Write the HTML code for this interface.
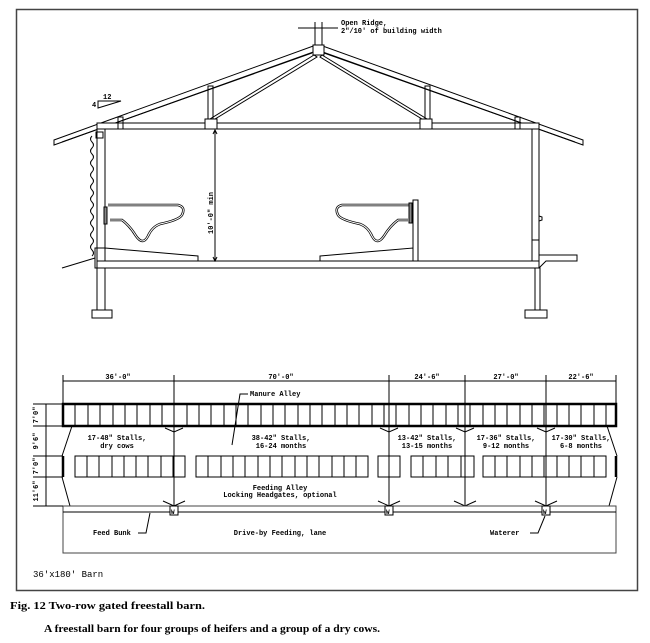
<!DOCTYPE html>
<html><head><meta charset="utf-8"><style>
body{margin:0;background:#fff;}
svg{display:block}
text{font-family:"Liberation Mono",monospace;font-size:7px;fill:#000;font-weight:bold}
.c{font-family:"Liberation Serif",serif;font-size:11px;font-weight:bold}
</style></head><body>
<svg width="650" height="643" viewBox="0 0 650 643" xmlns="http://www.w3.org/2000/svg">
<g fill="none" stroke="#000" stroke-width="1">
<rect x="16.5" y="9.5" width="621" height="581" stroke="#444" stroke-width="1.5"/>
<polygon points="54,140 316,45 320,45 583,140 583,145 320,51 316,51 54,145" fill="#fff"/>
<line x1="62" y1="142" x2="312" y2="53"/><line x1="324" y1="53" x2="575" y2="142"/>
<rect x="313" y="45" width="11" height="10" fill="#fff"/>
<rect x="97" y="123" width="442" height="6" fill="#fff"/>
<rect x="118" y="117" width="5" height="12"/><rect x="515" y="117" width="5" height="12"/>
<rect x="208" y="86" width="5" height="36"/><rect x="425" y="86" width="5" height="36"/>
<rect x="205" y="119" width="12" height="10" fill="#fff"/><rect x="420" y="119" width="12" height="10" fill="#fff"/>
<polygon points="314,55 210,119 215,119 317,57"/><polygon points="322,55 427,119 422,119 320,57"/>
<rect x="97" y="129" width="8" height="181" fill="#fff"/>
<rect x="92" y="310" width="20" height="8"/>
<rect x="96" y="132" width="7" height="6"/>
<rect x="95" y="248" width="10" height="20"/>
<path d="M92,136 q-3,3 0,6 q3,3 0,6 q-3,3 0,6 q3,3 0,6 q-3,3 0,6 q3,3 0,6 q-3,3 0,6 q3,3 0,6 q-3,3 0,6 q3,3 0,6 q-3,3 0,6 q3,3 0,6 q-3,3 0,6 q3,3 0,6 q-3,3 0,6 q3,3 0,6 q-3,3 0,6 q3,3 0,6 q-3,3 0,6 q3,3 0,6"/>
<line x1="62" y1="268" x2="95" y2="258"/>
<rect x="532" y="129" width="7" height="132" fill="#fff"/>
<line x1="532" y1="240" x2="539" y2="240"/>
<path d="M539,216 l3,1 l0,3 l-3,1"/>
<rect x="97" y="261" width="442" height="7" fill="#fff"/>
<path d="M539,255 L577,255 L577,261 L546,261 L539,268"/>
<rect x="535" y="268" width="5" height="42" fill="#fff"/>
<rect x="525" y="310" width="22" height="8"/>
<polygon points="105,248 198,256 198,261 105,261"/>
<polygon points="320,256 413,248 413,261 320,261"/>
<rect x="413" y="200" width="5" height="61" fill="#fff"/>
<g stroke-width="2.5"><path d="M108,205 H178 q8,2 4,10 q-3,5 -22,9 q-8,3 -12,12 q-5,10 -12,0 q-6,-10 -14,-16 H110"/></g>
<g stroke="#fff" stroke-width="1"><path d="M108,205 H178 q8,2 4,10 q-3,5 -22,9 q-8,3 -12,12 q-5,10 -12,0 q-6,-10 -14,-16 H110"/></g>
<rect x="104" y="207" width="3" height="17" fill="#888"/>
<g stroke-width="2.5"><path d="M410,205 H342 q-8,2 -4,10 q3,5 22,9 q8,3 12,12 q5,10 12,0 q6,-10 14,-16 H408"/></g>
<g stroke="#fff" stroke-width="1"><path d="M410,205 H342 q-8,2 -4,10 q3,5 22,9 q8,3 12,12 q5,10 12,0 q6,-10 14,-16 H408"/></g>
<rect x="409" y="203" width="3" height="20" fill="#888"/>
<line x1="215" y1="130" x2="215" y2="261"/>
<path d="M213,134 l2,-4 l2,4 M213,257 l2,4 l2,-4"/>
<line x1="298" y1="28" x2="338" y2="28"/><line x1="315" y1="22" x2="315" y2="45"/><line x1="322" y1="22" x2="322" y2="45"/>
<polygon points="98,108 121,101 98,101"/>
</g>
<text x="341" y="25">Open Ridge,</text>
<text x="341" y="33">2"/10' of building width</text>
<text x="103" y="99">12</text><text x="92" y="107">4</text>
<text transform="translate(213,213) rotate(-90)" text-anchor="middle">10'-0" min</text>

<g fill="none" stroke="#000" stroke-width="1">
<line x1="63" y1="381" x2="616" y2="381"/>
<path d="M63,375V404 M174,375V506 M389,375V506 M465,375V506 M546,375V506 M616,375V404"/>
<rect x="63" y="404" width="553" height="22" stroke-width="2.5"/>
<path d="M75,404V426 M88,404V426 M100,404V426 M113,404V426 M125,404V426 M137,404V426 M150,404V426 M162,404V426 M174,404V426 M187,404V426 M199,404V426 M211,404V426 M224,404V426 M236,404V426 M248,404V426 M261,404V426 M273,404V426 M285,404V426 M298,404V426 M310,404V426 M322,404V426 M335,404V426 M347,404V426 M359,404V426 M372,404V426 M384,404V426 M396,404V426 M409,404V426 M421,404V426 M433,404V426 M446,404V426 M458,404V426 M470,404V426 M483,404V426 M495,404V426 M507,404V426 M520,404V426 M532,404V426 M544,404V426 M557,404V426 M569,404V426 M581,404V426 M594,404V426 M606,404V426"/>
<rect x="75" y="456" width="110" height="21"/>
<path d="M87,456V477 M99,456V477 M112,456V477 M124,456V477 M136,456V477 M148,456V477 M161,456V477 M173,456V477"/>
<rect x="196" y="456" width="172" height="21"/>
<path d="M208,456V477 M221,456V477 M233,456V477 M245,456V477 M258,456V477 M270,456V477 M282,456V477 M295,456V477 M307,456V477 M319,456V477 M332,456V477 M344,456V477 M356,456V477"/>
<rect x="378" y="456" width="22" height="21"/><line x1="389" y1="456" x2="389" y2="477"/>
<rect x="411" y="456" width="63" height="21"/>
<path d="M423,456V477 M436,456V477 M448,456V477 M461,456V477"/>
<rect x="483" y="456" width="123" height="21"/>
<path d="M495,456V477 M507,456V477 M520,456V477 M532,456V477 M544,456V477 M557,456V477 M569,456V477 M581,456V477 M594,456V477"/>
<path d="M63,456V477 M616,456V477" stroke-width="2.5"/>
<path d="M72,426 L62,456 M62,477 L70,506 M607,426 L617,456 M617,477 L609,506"/>
<path d="M165,428 L174,432 L183,428 M380,428 L389,432 L398,428 M456,428 L465,432 L474,428 M537,428 L546,432 L555,428"/>
<path d="M163,501 L174,506 L185,501 M378,501 L389,506 L400,501 M454,501 L465,506 L476,501 M535,501 L546,506 L557,501"/>
<rect x="63" y="506" width="553" height="47" stroke="#444"/>
<line x1="63" y1="512" x2="616" y2="512"/>
<rect x="170" y="506" width="8" height="9" fill="#fff"/><rect x="385" y="506" width="8" height="9" fill="#fff"/><rect x="542" y="506" width="8" height="9" fill="#fff"/>
<line x1="46" y1="404" x2="46" y2="506"/>
<path d="M33,404H63 M33,426H63 M33,456H63 M33,477H63 M33,506H63"/>
<path d="M248,394 L240,394 L232,445"/>
<path d="M138,533 L146,533 L150,513"/>
<path d="M530,533 L538,533 L545,516"/>
</g>
<text x="171" y="514" style="font-size:6px">W</text><text x="386" y="514" style="font-size:6px">W</text><text x="543" y="514" style="font-size:6px">W</text>
<g text-anchor="middle">
<text x="118" y="379">36'-0"</text><text x="281" y="379">70'-0"</text><text x="427" y="379">24'-6"</text><text x="506" y="379">27'-0"</text><text x="581" y="379">22'-6"</text>
<text x="117" y="440">17-48" Stalls,</text><text x="117" y="448">dry cows</text>
<text x="281" y="440">38-42" Stalls,</text><text x="281" y="448">16-24 months</text>
<text x="427" y="440">13-42" Stalls,</text><text x="427" y="448">13-15 months</text>
<text x="506" y="440">17-36" Stalls,</text><text x="506" y="448">9-12 months</text>
<text x="581" y="440">17-30" Stalls,</text><text x="581" y="448">6-8 months</text>
<text x="280" y="490">Feeding Alley</text><text x="280" y="497">Locking Headgates, optional</text>
<text x="280" y="535">Drive-by Feeding, lane</text>
</g>
<text x="250" y="396">Manure Alley</text>
<text x="93" y="535">Feed Bunk</text>
<text x="490" y="535">Waterer</text>
<g text-anchor="middle">
<text transform="translate(38,415) rotate(-90)">7'0"</text>
<text transform="translate(38,441) rotate(-90)">9'6"</text>
<text transform="translate(38,466) rotate(-90)">7'0"</text>
<text transform="translate(38,491) rotate(-90)">11'6"</text>
</g>
<text x="33" y="577" style="font-size:9px;font-weight:normal">36'x180' Barn</text>
<text class="c" x="10" y="609" textLength="195" lengthAdjust="spacingAndGlyphs">Fig. 12 Two-row  gated  freestall barn.</text>
<text class="c" x="44" y="632" textLength="336" lengthAdjust="spacingAndGlyphs">A freestall barn for four groups of heifers and a group of a dry cows.</text>
</svg>
</body></html>
